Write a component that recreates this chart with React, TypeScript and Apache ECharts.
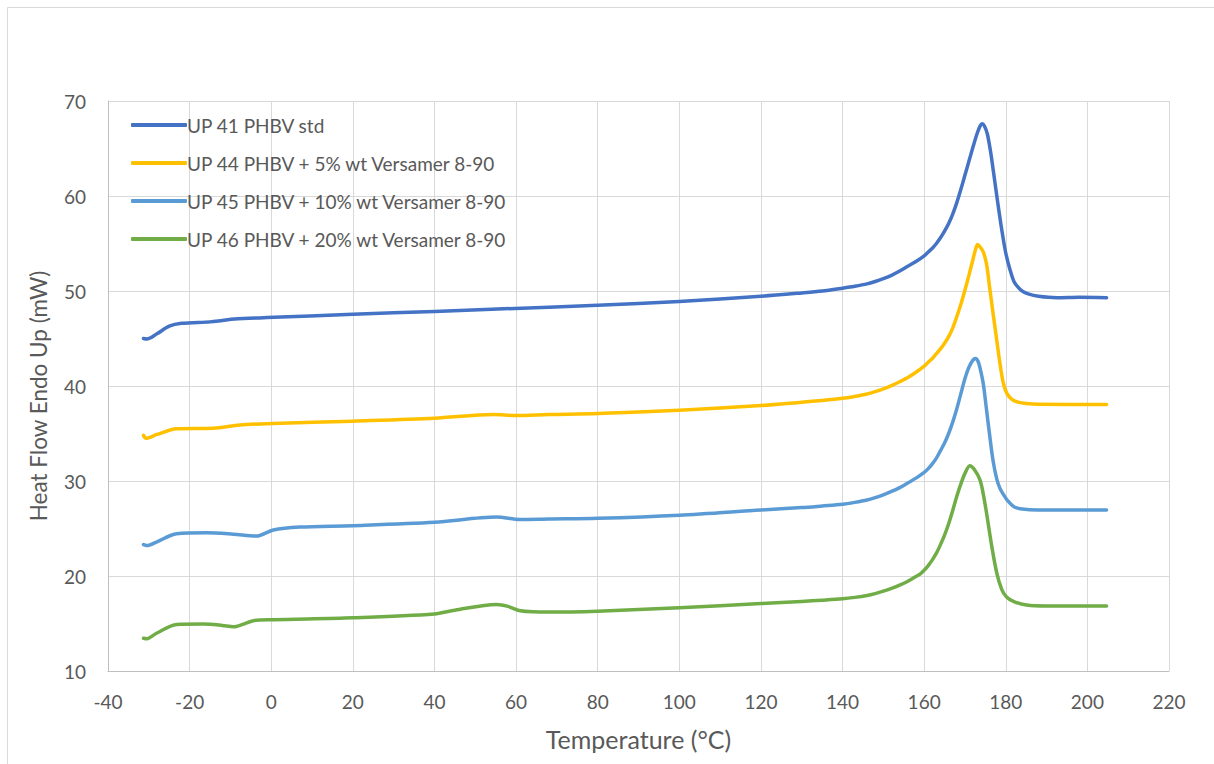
import React, { useEffect, useRef } from "react";
import * as echarts from "echarts";

const seriesNames = [
  "UP 41 PHBV std",
  "UP 44 PHBV + 5% wt Versamer 8-90",
  "UP 45 PHBV + 10% wt Versamer 8-90",
  "UP 46 PHBV + 20% wt Versamer 8-90",
];
const seriesColors = ["#4472C4", "#FFC000", "#5B9BD5", "#70AD47"];

const xTicks = [-40, -20, 0, 20, 40, 60, 80, 100, 120, 140, 160, 180, 200, 220];
const yTicks = [10, 20, 30, 40, 50, 60, 70];
const xTitle = "Temperature (°C)";
const yTitle = "Heat Flow Endo Up (mW)";

const up41Temp = [-31.3, -30.5, -28, -25, -22, -15, -12, -9, -1, 20, 40, 68, 80, 100, 120, 130, 135, 140, 143, 146, 148, 150, 152, 154, 156, 158, 160, 161, 162, 163, 164, 165, 166, 167, 168, 169, 170, 171, 172, 173, 173.7, 174.2, 174.8, 175.5, 176.3, 177, 178, 179, 180, 181, 182, 183, 184, 185.5, 188, 192.5, 198, 204.7];
const up41Flow = [45.0, 44.95, 45.5, 46.3, 46.6, 46.75, 46.9, 47.05, 47.2, 47.55, 47.85, 48.3, 48.5, 48.9, 49.45, 49.8, 50.0, 50.3, 50.5, 50.75, 51.0, 51.3, 51.65, 52.1, 52.6, 53.1, 53.7, 54.1, 54.5, 55.0, 55.6, 56.3, 57.1, 58.1, 59.3, 60.7, 62.2, 63.7, 65.2, 66.6, 67.35, 67.6, 67.35, 66.5, 64.6, 62.5, 59.4, 56.5, 54.0, 52.3, 51.0, 50.4, 50.0, 49.7, 49.45, 49.3, 49.35, 49.3];

const up44Temp = [-31.3, -30.7, -28, -23.2, -14.2, -7.7, 0.5, 20, 40, 54.4, 60, 68, 80, 100, 120, 130, 135, 140, 143, 146, 148, 150, 152, 154, 156, 158, 160, 161, 162, 163, 164, 165, 166, 167, 168, 169, 170, 171, 172, 172.6, 173.1, 173.6, 174.5, 175.3, 176.1, 177, 177.8, 178.6, 179.4, 180.3, 181.5, 183, 185, 188, 204.7];
const up44Flow = [34.8, 34.5, 34.9, 35.5, 35.55, 35.9, 36.05, 36.3, 36.6, 37.0, 36.9, 37.0, 37.1, 37.45, 37.95, 38.3, 38.48, 38.7, 38.9, 39.15, 39.4, 39.7, 40.05, 40.45, 40.9, 41.45, 42.1, 42.5, 42.9, 43.4, 43.9, 44.5, 45.2, 46.1, 47.3, 48.6, 50.1, 51.7, 53.4, 54.4, 54.9, 54.7, 54.1, 52.8, 50.2, 47.3, 44.8, 42.3, 40.3, 39.2, 38.6, 38.3, 38.15, 38.07, 38.05];

const up45Temp = [-31.3, -30.5, -28, -23.2, -15.8, -9.3, -3.6, 0.5, 7, 20, 40, 55.2, 61, 68, 80, 100, 120, 130, 135, 140, 143, 146, 148, 150, 152, 154, 156, 158, 160, 161, 162, 163, 164, 165, 166, 167, 168, 169, 170, 171, 172, 172.6, 173.2, 173.8, 174.5, 175.2, 176, 176.9, 177.8, 178.6, 179.4, 180.5, 182, 184, 188, 204.7];
const up45Flow = [23.3, 23.2, 23.6, 24.45, 24.55, 24.4, 24.2, 24.85, 25.15, 25.3, 25.65, 26.2, 25.95, 26.0, 26.07, 26.4, 26.95, 27.2, 27.37, 27.55, 27.75, 28.0, 28.25, 28.55, 28.9, 29.3, 29.8, 30.3, 30.9, 31.3, 31.8, 32.4, 33.2, 34.0, 35.0, 36.2, 37.6, 39.2, 40.8, 42.0, 42.75, 42.9, 42.6, 41.7, 40.2, 37.8, 35.0, 32.1, 30.2, 29.2, 28.6, 27.9, 27.3, 27.05, 26.95, 26.95];

const up46Temp = [-31.3, -30.5, -28, -23.2, -16.6, -12, -9.3, -7, -4.4, 0.5, 20, 40, 45, 55.2, 58, 61, 68, 80, 100, 120, 130, 135, 140, 143, 146, 148, 150, 152, 154, 156, 158, 159, 160, 161, 162, 163, 164, 165, 166, 167, 168, 169, 170, 171.2, 172.3, 173.7, 174.5, 175.3, 176.5, 177.8, 179, 180.2, 182, 185.1, 190, 204.7];
const up46Flow = [13.45, 13.4, 14.0, 14.9, 14.95, 14.8, 14.65, 14.9, 15.3, 15.4, 15.6, 16.0, 16.4, 17.0, 16.8, 16.35, 16.2, 16.3, 16.65, 17.1, 17.32, 17.45, 17.6, 17.75, 17.95, 18.15, 18.4, 18.7, 19.05, 19.45, 19.95, 20.2, 20.6, 21.1, 21.7, 22.4, 23.3, 24.3, 25.5, 26.9, 28.4, 29.7, 30.8, 31.6, 31.2, 30.1, 28.6, 26.6, 23.3, 20.3, 18.6, 17.8, 17.3, 16.95, 16.85, 16.84];

const temps = [up41Temp, up44Temp, up45Temp, up46Temp];
const flows = [up41Flow, up44Flow, up45Flow, up46Flow];

const FONT = "Lato";
const GRAY = "#595959";

export default function App() {
  const ref = useRef<HTMLDivElement>(null);
  useEffect(() => {
    if (!ref.current) return;
    const chart = echarts.init(ref.current, null, { renderer: "svg" });
    const series = seriesNames.map((name, i) => ({
      name,
      type: "line",
      smooth: 0.3,
      showSymbol: false,
      symbol: "none",
      lineStyle: { color: seriesColors[i], width: 3.5, cap: "round", join: "round" },
      itemStyle: { color: seriesColors[i] },
      data: temps[i].map((t, k) => [t, flows[i][k]]),
    }));
    chart.setOption({
      animation: false,
      backgroundColor: "#ffffff",
      graphic: [
        {
          type: "rect",
          shape: { x: 7.5, y: 7.5, width: 1230, height: 780 },
          style: { fill: "none", stroke: "#d9d9d9", lineWidth: 1 },
          silent: true,
        },
        {
          type: "text",
          x: 38,
          y: 396,
          rotation: Math.PI / 2,
          style: {
            text: yTitle,
            fill: GRAY,
            font: `22.5px ${FONT}`,
            textAlign: "center",
            textVerticalAlign: "middle",
          },
          silent: true,
        },
      ],
      grid: { left: 108, top: 101, right: 45, bottom: 93, containLabel: false },
      legend: {
        orient: "vertical",
        left: 126,
        top: 110,
        itemWidth: 56,
        itemHeight: 4,
        itemGap: 18,
        icon: "roundRect",
        data: seriesNames,
        textStyle: { color: GRAY, fontFamily: FONT, fontSize: 19, lineHeight: 20, padding: [0, 0, 0, -5] },
      },
      xAxis: {
        type: "value",
        min: xTicks[0],
        max: xTicks[xTicks.length - 1],
        interval: 20,
        name: xTitle,
        nameLocation: "middle",
        nameGap: 55,
        nameTextStyle: { color: GRAY, fontFamily: FONT, fontSize: 25, verticalAlign: "top" },
        axisLine: { show: true, onZero: false, lineStyle: { color: "#bfbfbf", width: 1 } },
        axisTick: { show: false },
        axisLabel: { color: GRAY, fontFamily: FONT, fontSize: 19, margin: 21 },
        splitLine: { show: true, lineStyle: { color: "#d9d9d9", width: 1 } },
      },
      yAxis: {
        type: "value",
        min: yTicks[0],
        max: yTicks[yTicks.length - 1],
        interval: 10,
        axisLine: { show: true, onZero: false, lineStyle: { color: "#bfbfbf", width: 1 } },
        axisTick: { show: false },
        axisLabel: { color: GRAY, fontFamily: FONT, fontSize: 19, margin: 22 },
        splitLine: { show: true, lineStyle: { color: "#d9d9d9", width: 1 } },
      },
      series,
    });
    return () => chart.dispose();
  }, []);
  return (
    <div
      ref={ref}
      style={{ position: "absolute", left: 0, top: 0, width: 1214, height: 764 }}
    />
  );
}
